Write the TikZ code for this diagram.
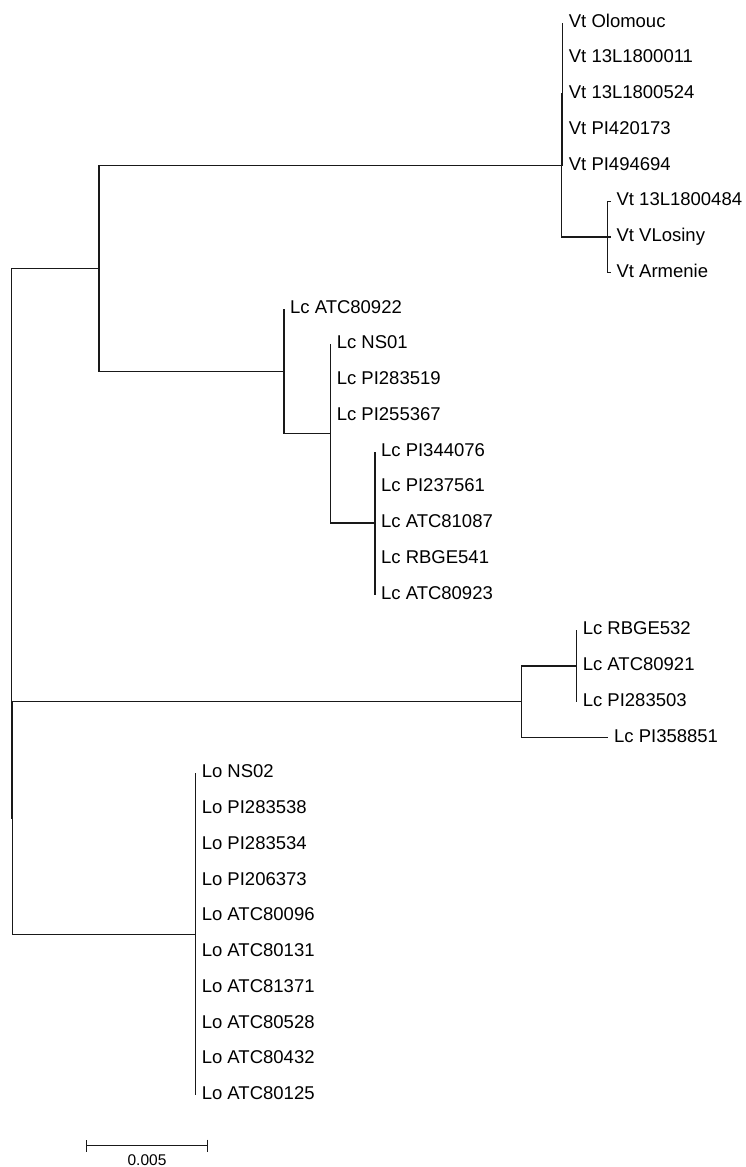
\documentclass[tikz,border=0pt]{standalone}
\usepackage{fontspec}
\setmainfont{Liberation Sans}
\usetikzlibrary{arrows.meta}

\begin{document}
\begin{tikzpicture}[x=1pt, y=-1pt, line width=1.2pt, draw=black!90,
    leaf/.style={anchor=west, inner xsep=5.5pt, inner ysep=0pt, text height=13.3pt, text depth=4pt, font=\fontsize{18.5}{20}\selectfont},
    scalelabel/.style={font=\fontsize{15.5}{16}\selectfont, inner sep=0pt}]
\useasboundingbox (0,0) rectangle (746,1167);

% internal nodes of the tree
\coordinate (R) at (11.5,543.1);
\coordinate (A) at (99,268.3);
\coordinate (B) at (12.7,817.9);
\coordinate (V) at (561.8,165.5);
\coordinate (P1) at (562.8,94);
\coordinate (P2) at (607.7,237);
\coordinate (S1) at (284,371.1);
\coordinate (S2) at (330.7,433.6);
\coordinate (S3) at (375,523);
\coordinate (Q1) at (521.5,701.75);
\coordinate (Q2) at (576.7,666);
\coordinate (O) at (195.7,934.1);

% leaves
\node[leaf] (vt1) at (562.8,22.5) {Vt Olomouc};
\node[leaf] (vt2) at (562.8,58.25) {Vt 13L1800011};
\node[leaf] (vt3) at (562.8,94) {Vt 13L1800524};
\node[leaf] (vt4) at (562.8,129.75) {Vt PI420173};
\node[leaf] (vt5) at (562.8,165.5) {Vt PI494694};
\node[leaf] (vt6) at (610.5,201.25) {Vt 13L1800484};
\node[leaf] (vt7) at (610.5,237) {Vt VLosiny};
\node[leaf] (vt8) at (610.5,272.75) {Vt Armenie};

\node[leaf] (lc1) at (284,308.5) {Lc ATC80922};
\node[leaf] (lc2) at (330.7,344.25) {Lc NS01};
\node[leaf] (lc3) at (330.7,380) {Lc PI283519};
\node[leaf] (lc4) at (330.7,415.75) {Lc PI255367};
\node[leaf] (lc5) at (375,451.5) {Lc PI344076};
\node[leaf] (lc6) at (375,487.25) {Lc PI237561};
\node[leaf] (lc7) at (375,523) {Lc ATC81087};
\node[leaf] (lc8) at (375,558.75) {Lc RBGE541};
\node[leaf] (lc9) at (375,594.5) {Lc ATC80923};

\node[leaf] (lcb1) at (576.7,630.25) {Lc RBGE532};
\node[leaf] (lcb2) at (576.7,666) {Lc ATC80921};
\node[leaf] (lcb3) at (576.7,701.75) {Lc PI283503};
\node[leaf] (lcb4) at (608,737.5) {Lc PI358851};

\node[leaf] (lo1) at (195.7,773.25) {Lo NS02};
\node[leaf] (lo2) at (195.7,809) {Lo PI283538};
\node[leaf] (lo3) at (195.7,844.75) {Lo PI283534};
\node[leaf] (lo4) at (195.7,880.5) {Lo PI206373};
\node[leaf] (lo5) at (195.7,916.25) {Lo ATC80096};
\node[leaf] (lo6) at (195.7,952) {Lo ATC80131};
\node[leaf] (lo7) at (195.7,987.75) {Lo ATC81371};
\node[leaf] (lo8) at (195.7,1023.5) {Lo ATC80528};
\node[leaf] (lo9) at (195.7,1059.25) {Lo ATC80432};
\node[leaf] (lo10) at (195.7,1095) {Lo ATC80125};

% branches
\draw (R) |- (A) (R) |- (B);
\draw (A) |- (V) (A) |- (S1);
\draw (V) |- (P1) (V) |- (P2);
\draw (P1) |- (vt1.west) (P1) |- (vt2.west) (P1) |- (vt3.west) (P1) |- (vt4.west) (P1) |- (vt5.west);
\draw (P2) |- (vt6.west) (P2) |- (vt7.west) (P2) |- (vt8.west);
\draw (S1) |- (lc1.west) (S1) |- (S2);
\draw (S2) |- (lc2.west) (S2) |- (lc3.west) (S2) |- (lc4.west) (S2) |- (S3);
\draw (S3) |- (lc5.west) (S3) |- (lc6.west) (S3) |- (lc7.west) (S3) |- (lc8.west) (S3) |- (lc9.west);
\draw (B) |- (Q1) (B) |- (O);
\draw (Q1) |- (Q2) (Q1) |- (lcb4.west);
\draw (Q2) |- (lcb1.west) (Q2) |- (lcb2.west) (Q2) |- (lcb3.west);
\draw (O) |- (lo1.west) (O) |- (lo10.west);

% scale bar
\coordinate (sbl) at (86,1145.5);
\coordinate (sbr) at (208,1145.5);
\draw[{Bar[width=12pt]}-{Bar[width=12pt]}] (sbl) -- (sbr);
\node[scalelabel] (sblabel) at (147,1160.5) {0.005};

\end{tikzpicture}
\end{document}
